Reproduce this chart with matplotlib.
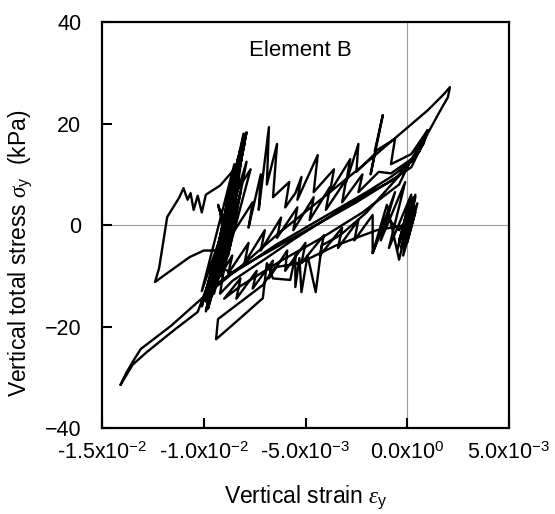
import matplotlib
matplotlib.use("Agg")
import numpy as np
import matplotlib.pyplot as plt

# Strain (x 1e-3) and vertical stress (kPa) read along the recorded path
strain_e3 = [
    # right cluster
    0.0, 0.3, -0.2, 0.4, -0.5, 0.2, -0.9, -0.1, -1.3, -0.6, -1.7, -1.0, -0.4, 0.3, -0.2, 0.5, 0.0, 0.4, -0.3, 0.3,
    -0.1, 0.4, -0.2, 0.2, -0.4, 0.3, -0.1,
    # down to the bottom loop and back up
    -1.5, -3.5, -5.3, -6.5, -7.1, -9.3, -9.4, -8.2, -7.1, -6.9, -6.6, -5.75, -5.5, -5.5, -5.3, -5.2, -4.9, -4.5,
    -4.2, -3.3, -2.0, -1.0, 0.0, 0.5, 1.0,
    0.8, 0.2, -0.8, -2.0, -3.5, -5.0, -6.5, -7.8, -8.6,
    # dense cluster 1
    -9.3, -8.2, -9.6, -8.0, -9.0, -7.9, -8.6, -8.0, -9.2, -8.3, -9.8, -8.5, -10.1, -8.8, -9.6, -8.1, -8.9, -7.9,
    -8.8, -8.0, -8.5, -7.7, -9.1, -8.3, -9.2,
    # left loop
    -10.0, -10.7, -12.4, -12.2, -11.8, -11.2, -11.0, -10.8, -10.65, -10.5, -10.3, -10.1, -9.9, -9.2, -8.5,
    # dense cluster 2
    -9.4, -8.3, -9.6, -8.1, -9.1, -8.2, -9.7, -8.7, -9.9, -8.4, -9.5, -8.05, -8.3, -8.0, -8.25, -8.05, -8.3, -8.1,
    -9.0,
    # tail and largest loop
    -10.3, -11.5, -12.8, -13.5, -14.1, -13.8, -13.4, -13.1, -11.6, -10.2, -8.2, -6.2, -4.2, -2.1, -0.2, 1.0, 1.8, 2.1,
    2.0, 1.6, 1.0, 0.2, -1.0, -2.3, -4.0, -5.5, -7.0, -8.6, -9.2,
    # dense cluster 3
    -8.6, -9.6, -8.4, -9.9, -8.9, -10.1, -8.5, -9.5, -8.2, -9.3, -8.4, -9.4,
    # dense cluster 4
    -9.7, -8.6, -9.9, -8.9, -9.5, -8.4, -9.3, -8.7, -9.8, -9.0, -9.4, -8.5, -9.1, -8.2, -8.9,
    -9.2, -8.7, -9.3, -8.8, -9.1,
    # upper sawtooth
    -8.8, -7.6, -7.8, -7.2, -7.3, -6.8, -6.9, -6.4, -6.6, -5.8, -6.0, -5.5, -5.2, -5.4, -4.4, -4.6, -3.6, -3.8, -2.8, -3.0,
    -2.4, -2.5, -1.6, -1.8, -1.2, -1.6, -0.6, -0.8, 0.2, 1.0,
    0.6, -0.5, -2.5, -4.5, -6.5, -8.5, -9.5,
    # middle sawtooth
    -8.6, -8.8, -7.8, -8.0, -7.0, -7.2, -6.2, -6.4, -5.4, -5.6, -4.6, -4.8, -3.8, -4.0, -3.0, -3.2, -2.2, -2.4, -1.4, -0.8,
    0.2,
    -0.4, -2.2, -4.2, -6.2, -8.2, -9.0,
    # lower sawtooth
    -8.2, -8.4, -7.4, -7.6, -6.6, -6.8, -5.9, -6.0, -5.0, -5.2, -4.1, -4.3, -3.2, -3.4, -2.4, -2.6, -1.7, -1.7, -1.0, -0.4,
    0.3,
    0.1, -0.3, 0.3,
]
stress_kpa = [
    0.0, 4.0, -3.5, 5.5, -5.0, 6.0, -4.5, 8.5, -3.0, 6.5, -5.5, 4.0, -6.8, 5.0, -2.0, 4.3, -3.5, 6.0, -4.5, 3.0,
    -1.5, 2.5, -6.0, 4.5, -3.0, 5.5, 0.0,
    -1.0, -4.0, -7.5, -8.3, -11.8, -18.5, -22.5, -18.3, -14.4, -7.5, -10.5, -10.8, -6.0, -12.2, -6.5, -13.2, -6.0, -13.2,
    -4.0, -2.0, 2.5, 7.0, 11.5, 15.0, 18.7,
    16.0, 12.5, 9.5, 6.5, 3.0, -0.5, -4.0, -7.5, -9.5,
    -8.0, 12.0, -10.0, 16.0, -4.0, 18.3, 4.0, 17.0, -7.0, 11.0, -14.0, 8.0, -16.0, 3.0, -11.0, 15.5, -1.0, 12.5,
    -6.0, 17.5, 6.0, 11.0, -10.0, 9.0, -5.0,
    -5.0, -6.3, -11.2, -8.5, 1.6, 5.5, 7.3, 5.0, 6.3, 3.0, 5.8, 2.5, 6.0, 7.8, 11.0,
    -6.0, 13.5, -11.0, 16.5, -2.0, 14.0, -13.0, 7.0, -15.0, 10.0, -9.0, 18.0, 10.0, 18.0, 11.0, 17.5, 12.0, 16.5,
    -3.0,
    -17.1, -20.8, -25.0, -27.5, -31.5, -29.0, -26.3, -24.4, -19.8, -14.8, -8.2, -1.2, 5.2, 12.0, 18.5, 22.6, 25.8, 27.2,
    25.2, 22.4, 18.0, 11.4, 8.2, 5.5, 1.2, -2.6, -6.7, -11.0, -13.5,
    2.0, -14.0, 8.0, -17.0, 1.0, -13.0, 12.0, -9.0, 15.0, -6.0, 9.0, -10.0,
    -12.5, 0.0, -15.0, -2.0, -13.5, 2.5, -10.5, -1.5, -16.5, -4.5, -12.0, 4.5, -8.5, 6.5, -6.5,
    3.0, -4.0, 4.0, -3.0, 1.0,
    -3.0, 4.5, -0.5, 10.0, 3.0, 19.3, 8.0, 16.0, 5.5, 8.5, 3.5, 6.3, 9.5, 5.0, 13.8, 6.5, 11.0, 6.5, 13.0, 8.5,
    16.0, 10.5, 14.0, 10.0, 21.7, 14.5, 17.0, 12.0, 14.0, 18.7,
    14.5, 9.5, 4.5, 0.0, -4.5, -9.0, -12.0,
    -6.0, -9.5, -3.5, -7.5, -1.0, -5.0, 1.5, -2.5, 3.5, -1.0, 5.5, 1.0, 7.5, 3.0, 9.0, 4.5, 10.0, 6.5, 10.5, 10.2,
    13.0,
    8.0, 2.5, -2.5, -7.0, -12.0, -14.5,
    -10.5, -14.5, -9.0, -12.5, -7.0, -10.5, -5.0, -9.0, -3.5, -7.5, -2.0, -6.0, -0.5, -4.5, 1.0, -3.0, 2.0, -5.5, 1.5, -1.0,
    3.0,
    5.0, -2.0, 3.5,
]

x_ticks = [-0.015, -0.01, -0.005, 0.0, 0.005]
x_tick_labels = ["-1.5x10$^{-2}$", "-1.0x10$^{-2}$", "-5.0x10$^{-3}$", "0.0x10$^{0}$", "5.0x10$^{-3}$"]
y_ticks = [-40, -20, 0, 20, 40]

plt.rcParams["font.family"] = ["Liberation Sans", "DejaVu Sans"]
plt.rcParams["mathtext.fontset"] = "custom"
plt.rcParams["mathtext.rm"] = "Liberation Sans"
plt.rcParams["mathtext.it"] = "Liberation Serif:italic"

fig = plt.figure(figsize=(5.55, 5.14), dpi=100)
ax = fig.add_axes([0.184, 0.167, 0.733, 0.79])

ax.axhline(0, color="#999999", lw=0.8, zorder=1)
ax.axvline(0, color="#999999", lw=0.8, zorder=1)

x = np.array(strain_e3) * 1e-3
ax.plot(x, stress_kpa, color="black", lw=1.7, zorder=2)

ax.set_xlim(-0.015, 0.005)
ax.set_ylim(-40, 40)
ax.set_xticks(x_ticks)
ax.set_xticklabels(x_tick_labels)
ax.set_yticks(y_ticks)
ax.tick_params(axis="both", direction="in", length=7, width=1.5, labelsize=15.5)
ax.tick_params(axis="x", pad=10)
ax.tick_params(axis="y", pad=15)
for sp in ax.spines.values():
    sp.set_linewidth(1.6)

ax.text(-0.00526, 34.5, "Element B", fontsize=16, ha="center", va="center")

ax.set_xlabel("Vertical strain $\\varepsilon_\\mathrm{y}$", fontsize=16.5)
ax.set_ylabel("Vertical total stress $\\sigma_\\mathrm{y}$  (kPa)", fontsize=16.5)
ax.xaxis.set_label_coords(0.5, -0.135)
ax.yaxis.set_label_coords(-0.168, 0.43)

fig.savefig("out.png", dpi=100)
